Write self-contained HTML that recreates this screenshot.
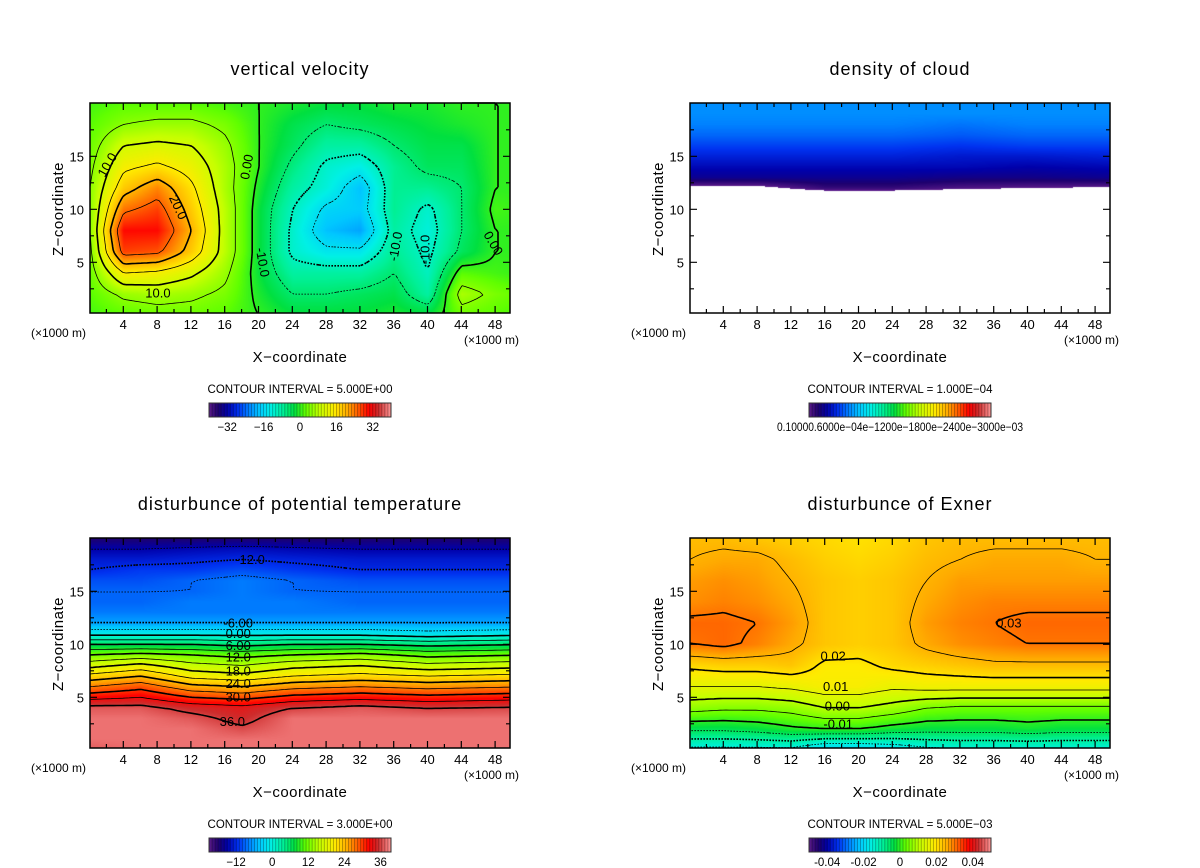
<!DOCTYPE html>
<html><head><meta charset="utf-8">
<style>
html,body{margin:0;padding:0;background:#fff;}
#root{position:relative;width:1200px;height:868px;overflow:hidden;font-family:"Liberation Sans",sans-serif;}
canvas{position:absolute;}
svg{position:absolute;left:0;top:0;}
</style></head>
<body>
<div id="root">
<canvas id="c0" width="420" height="210" style="left:90px;top:103px"></canvas>
<canvas id="c1" width="420" height="210" style="left:690px;top:103px"></canvas>
<canvas id="c2" width="420" height="210" style="left:90px;top:538px"></canvas>
<canvas id="c3" width="420" height="210" style="left:690px;top:538px"></canvas>
<svg id="ov" width="1200" height="868"></svg>
</div>
<script>
// ---------- data: vertical velocity ----------
const wXs=[0,4,8,12,16,20,24,28,32,36,40,44,48,52];
const wZs=[20,18,16,14,12,10,8,6,4,2,0];
const wVals=[
[1,2,2,2,1,0,-1,-2,-2,-1,-1,0,0,0],
[2,5,6,6,4,0,-3,-5,-4,-3,-2,-1,0,0],
[3,10,11,10,6,0,-4,-8,-8,-5,-3,-3,0,0],
[4,14,16,13,7,0,-6,-11,-13,-7,-4,-4,0,0],
[5,18,23,16,7,-1,-8,-12,-18,-7,-7,-5,0,0],
[5,24,27,18,8,-2,-10,-16,-17,-7,-11,-5,1,0],
[5,30,30,20,8,-2,-11,-18,-20,-8,-12,-5,0,0],
[4,27,26,18,8,-2,-11,-14,-14,-7,-11,-4,0,0],
[3,15,14,11,6,-2,-8,-8,-8,-5,-10,2,1,0],
[2,6,7,6,4,-1,-5,-5,-4,-3,-8,7,4,2],
[1,2,3,3,2,0,-2,-2,-2,-1,-2,3,2,1]];
const wLabels=[["10.0",2.1,14.2,-60],["20.0",10.5,10.2,65],["10.0",8.1,2.1,0],["0.00",18.6,14,-80],["-10.0",20.5,5,80],["-10.0",36.2,6.5,-80],["-10.0",39.7,6.2,-90],["0.00",47.8,6.8,60]];
const wTicks=[-32,-16,0,16,32];
// ---------- data: cloud density ----------
const cXs=[0,8,16,24,32,40,52];
const cZs=[20,19,18,17,16,15,14,13,12,11,0];
const cVals=[
[.23,.23,.23,.23,.23,.23,.23],
[.23,.23,.23,.23,.23,.23,.23],
[.22,.22,.22,.22,.21,.22,.22],
[.2,.2,.2,.2,.19,.2,.2],
[.17,.17,.17,.17,.16,.17,.17],
[.14,.14,.14,.14,.13,.13,.14],
[.11,.11,.11,.11,.11,.1,.11],
[.08,.08,.08,.08,.07,.07,.08],
[-.02,-.02,.03,.03,.01,.0,-.01],
[-.1,-.1,-.1,-.1,-.1,-.1,-.1],
[-1,-1,-1,-1,-1,-1,-1]];
// ---------- data: potential temperature ----------
const tXs=[0,6,12,18,24,32,40,52];
const tZs=[20,19,18,17,16,15,14,13,12,11,10,9,8,7,6,5,4,3,2,1,0];
const tVals=[
[-18,-18,-18,-18,-18,-18,-18,-18],
[-15,-15,-14.5,-14,-14.5,-15,-15,-15],
[-13,-13,-12.5,-12,-12.5,-13,-13,-13],
[-12,-11,-11,-10,-11,-12,-12,-12],
[-10,-10,-9,-8,-9,-10,-10,-10],
[-9,-9,-9,-8,-9,-9,-9,-9],
[-9,-9,-8,-8,-8,-9,-9,-9],
[-8,-8,-8,-8,-8,-8,-8,-8],
[-6,-6,-6,-6,-6,-6,-6,-6],
[-1,-1,-1,-1,-1,-1,-2,-1],
[6,6,6,5,6,6,5,6],
[12,13,12,11,12,13,11,12],
[17,19,16,15,17,18,16,17],
[22,24,20,19,21,22,21,22],
[27,29,25,24,26,27,26,27],
[32,33,30,29,31,32,31,32],
[37,37,35,34,36,37,36,36.5],
[38,38,37,35,38,38,38,38],
[38,38,38,36.5,38,38,38,38],
[38,38,38,38,38,38,38,38],
[37,38,38,38,38,38,38,38]];
const tLabels=[["-12.0",19,18],["-6.00",17.6,12],["0.00",17.6,11],["6.00",17.6,9.9],["12.0",17.6,8.8],["18.0",17.6,7.5],["24.0",17.6,6.3],["30.0",17.6,5.05],["36.0",16.9,2.7]];
const tTicks=[-12,0,12,24,36];
// ---------- data: Exner (units 1e-3) ----------
const eXs=[0,4,8,12,16,20,24,28,32,36,40,44,48,52];
const eZs=[20,18,16,14,12,10,8,6,4,2,0];
const eVals=[
[24,24,23,22,21,20,21,23,24,24,24,24,24,24],
[25,26,26,24,22,21,22,24,25,26,26,26,25,25],
[27,28,27,25,23,22,23,25,27,27,27,27,27,27],
[28,29,28,26,23,22,23,26,28,29,29,29,29,29],
[31,31,30,27,23,22,23,27,29,30,31,31,31,31],
[30,31,29,26,23,22,23,26,28,29,30,30,30,30],
[21,22,22,23,19,19,21,22,23,24,24,24,24,24],
[15,15,15,16,18,18,16,17,17,17,17,17,17,17],
[7,6,6,7,10,10,8,5,4,4,4,4,4,4],
[-4,-4,-3,-1,0,0,-2,-3,-3,-3,-2,-3,-3,-3],
[-17,-17,-17,-17,-22,-22,-20,-17,-16,-16,-16,-16,-16,-16]];
const eLabels=[["0.03",37.8,12],["0.02",17,8.9],["0.01",17.3,6],["0.00",17.5,4.2],["-0.01",17.6,2.5]];
const eTicks=[-40,-20,0,20,40];
const eTickText=["-0.04","-0.02","0","0.02","0.04"];

// ---------- helpers ----------
const stops=[[0,[90,26,138]],[.05,[30,0,110]],[.1,[0,0,170]],[.16,[0,50,240]],[.22,[0,130,255]],[.28,[0,200,255]],[.34,[0,240,230]],[.41,[0,240,150]],[.47,[0,224,64]],[.53,[96,255,0]],[.61,[200,255,0]],[.69,[255,235,0]],[.76,[255,170,0]],[.82,[255,90,0]],[.88,[255,0,0]],[.93,[205,45,45]],[1,[255,150,150]]];
function cmap(t){t=Math.max(0,Math.min(1,t));for(let i=0;i<stops.length-1;i++){const a=stops[i],b=stops[i+1];if(t<=b[0]){const f=(t-a[0])/(b[0]-a[0]);return [0,1,2].map(k=>Math.round(a[1][k]+(b[1][k]-a[1][k])*f));}}return stops[stops.length-1][1];}
function seg(arr,v){for(let i=0;i<arr.length-1;i++){const a=arr[i],b=arr[i+1];if((v>=Math.min(a,b))&&(v<=Math.max(a,b))){return [i,(v-a)/(b-a)];}}return v<arr[0]===arr[0]<arr[1]?[0,0]:[arr.length-2,1];}
function interp(xs,zs,V,x,z){const [i,fx]=seg(xs,x),[j,fz]=seg(zs,z);const a=V[j][i],b=V[j][i+1],c=V[j+1][i],d=V[j+1][i+1];return (a*(1-fx)+b*fx)*(1-fz)+(c*(1-fx)+d*fx)*fz;}
const PXU=8.45,PZU=10.6;
const NS='http://www.w3.org/2000/svg';
const ov=document.getElementById('ov');
function el(tag,attrs,parent){const e=document.createElementNS(NS,tag);for(const k in attrs)e.setAttribute(k,attrs[k]);(parent||ov).appendChild(e);return e;}
function txt(s,attrs,parent){const e=el('text',attrs,parent);e.textContent=s;return e;}

function panel(o){
  const L=o.ox+90,T=o.oy+103,W=420,H=210;
  const X=v=>L-0.5+v*PXU, Z=v=>T+212.3-v*PZU;
  const xv=px=>(px+0.5)/PXU, zv=py=>(212.3-py)/PZU;
  const cv=document.getElementById(o.cid),ctx=cv.getContext('2d'),img=ctx.createImageData(W,H);
  for(let py=0;py<H;py++)for(let px=0;px<W;px++){
    const v=interp(o.xs,o.zs,o.vals,xv(px),zv(py+0.5));const k=(py*W+px)*4;
    let c;if(o.white&&v<=0)c=[255,255,255];else c=cmap((v-o.vmin)/(o.vmax-o.vmin));
    img.data[k]=c[0];img.data[k+1]=c[1];img.data[k+2]=c[2];img.data[k+3]=255;}
  ctx.putImageData(img,0,0);
  const g=el('g',{});
  
  
  if(o.levels){
    const S=3,NX=W/S,NZ=H/S,F=[];
    for(let j=0;j<=NZ;j++){F.push([]);for(let i=0;i<=NX;i++)F[j].push(interp(o.xs,o.zs,o.vals,xv(i*S-0.5),zv(j*S)));}
    o.levels.forEach(lv=>{
      let d='';
      for(let j=0;j<NZ;j++)for(let i=0;i<NX;i++){
        const c=[[i,j,F[j][i]],[i+1,j,F[j][i+1]],[i+1,j+1,F[j+1][i+1]],[i,j+1,F[j+1][i]]];const pts=[];
        for(let e=0;e<4;e++){const a=c[e],b=c[(e+1)%4];if((a[2]<lv)!==(b[2]<lv)){const f=(lv-a[2])/(b[2]-a[2]);pts.push([L+(a[0]+(b[0]-a[0])*f)*S,T+(a[1]+(b[1]-a[1])*f)*S]);}}
        for(let p=0;p+1<pts.length;p+=2)d+='M'+pts[p][0].toFixed(1)+' '+pts[p][1].toFixed(1)+'L'+pts[p+1][0].toFixed(1)+' '+pts[p+1][1].toFixed(1);
      }
      if(d){const thick=Math.abs(Math.round(lv/o.major)*o.major-lv)<1e-9;
        const pth=el('path',{d:d,fill:'none',stroke:'#000','stroke-width':thick?1.6:0.8,'stroke-dasharray':lv<0?'1.6,1.6':'none'},g);
        
        }
    });
  }
  if(o.labels)o.labels.forEach(l=>{const x=X(l[1]),y=Z(l[2]);
    const t=txt(l[0],{x:x,y:y+4.5,'text-anchor':'middle','font-size':13,fill:'#000',transform:'rotate('+(l[3]||0)+' '+x+' '+y+')'},g);
    
    });
  const fr=el('rect',{x:L,y:T,width:W,height:H,fill:'none',stroke:'#000','stroke-width':1.5},g);
  
  
  let td='';
  for(let v=2;v<50;v+=2){const x=X(v),len=v%4===0?7:4;td+=`M${x} ${T}v${len}M${x} ${T+H}v${-len}`;}
  for(let v=2.5;v<20;v+=2.5){const y=Z(v),len=v%5===0?7:4;td+=`M${L} ${y}h${len}M${L+W} ${y}h${-len}`;}
  el('path',{d:td,stroke:'#000','stroke-width':1.2,fill:'none'},g);
  for(let v=4;v<=48;v+=4){const t=txt(String(v),{x:X(v),y:T+H+16,'text-anchor':'middle','font-size':13},g);
    
    }
  [5,10,15].forEach(v=>{const t=txt(String(v),{x:L-6,y:Z(v)+5,'text-anchor':'end','font-size':13},g);
    
    });
  const u1=txt('(\u00d71000 m)',{x:L-59,y:T+H+24,'font-size':12},g);
  
  
  const u2=txt('(\u00d71000 m)',{x:L+W+9,y:T+H+31,'text-anchor':'end','font-size':12},g);
  
  
  const xt=txt('X\u2212coordinate',{x:L+210,y:T+H+49,'text-anchor':'middle','font-size':15,'letter-spacing':0.5},g);
  
  
  const yt=txt('Z\u2212coordinate',{x:L-27,y:T+106,'text-anchor':'middle','font-size':15,'letter-spacing':0.5,transform:`rotate(-90 ${L-27} ${T+106})`},g);
  
  
  const ti=txt(o.title,{x:L+210,y:T-28,'text-anchor':'middle','font-size':18,'letter-spacing':1},g);
  
  
  const ci=txt(o.ci,{x:L+210,y:T+H+80,'text-anchor':'middle','font-size':11.5},g);
  
  
  const cb=el('g',{},g);
  
  
  const bx=L+119,by=T+H+90,bw=182,bh=14,N=60;
  for(let k=0;k<N;k++){const c=cmap((k+0.5)/N);
    el('rect',{x:bx+k*bw/N,y:by,width:bw/N+0.3,height:bh,fill:`rgb(${c[0]},${c[1]},${c[2]})`},cb);
    el('line',{x1:bx+k*bw/N,y1:by,x2:bx+k*bw/N,y2:by+bh,stroke:'rgba(0,0,0,0.35)','stroke-width':0.8},cb);}
  el('rect',{x:bx,y:by,width:bw,height:bh,fill:'none',stroke:'#333','stroke-width':1},cb);
  if(o.ticks)o.ticks.forEach((v,i)=>{const t=txt(o.tickText?o.tickText[i]:String(v).replace('-','\u2212'),{x:bx+(v-o.vmin)/(o.vmax-o.vmin)*bw,y:by+bh+14,'text-anchor':'middle','font-size':11.5},cb);
    
    });
  if(o.cbText){const t=txt(o.cbText,{x:bx-32,y:by+bh+14,'font-size':11.5,textLength:246,lengthAdjust:'spacingAndGlyphs'},cb);
    
    }
}
const lv1=[];for(let v=-20;v<=30;v+=5)lv1.push(v);
const lv3=[];for(let v=-18;v<=36;v+=3)lv3.push(v);
const lv4=[];for(let v=-20;v<=30;v+=5)lv4.push(v);
panel({name:'vertical-velocity',cid:'c0',ox:0,oy:0,title:'vertical velocity',ci:'CONTOUR INTERVAL = 5.000E+00',xs:wXs,zs:wZs,vals:wVals,vmin:-40,vmax:40,levels:lv1,major:10,labels:wLabels,ticks:wTicks});
panel({name:'cloud-density',cid:'c1',ox:600,oy:0,title:'density of cloud',ci:'CONTOUR INTERVAL = 1.000E\u221204',xs:cXs,zs:cZs,vals:cVals,vmin:0,vmax:1,white:true,cbText:'0.10000.6000e\u221204e\u22121200e\u22121800e\u22122400e\u22123000e\u221203'});
panel({name:'potential-temperature',cid:'c2',ox:0,oy:435,title:'disturbunce of potential temperature',ci:'CONTOUR INTERVAL = 3.000E+00',xs:tXs,zs:tZs,vals:tVals,vmin:-21,vmax:39.5,levels:lv3,major:6,labels:tLabels,ticks:tTicks});
panel({name:'exner',cid:'c3',ox:600,oy:435,title:'disturbunce of Exner',ci:'CONTOUR INTERVAL = 5.000E\u221203',xs:eXs,zs:eZs,vals:eVals,vmin:-50,vmax:50,levels:lv4,major:10,labels:eLabels,ticks:eTicks,tickText:eTickText});
</script>
</body></html>
